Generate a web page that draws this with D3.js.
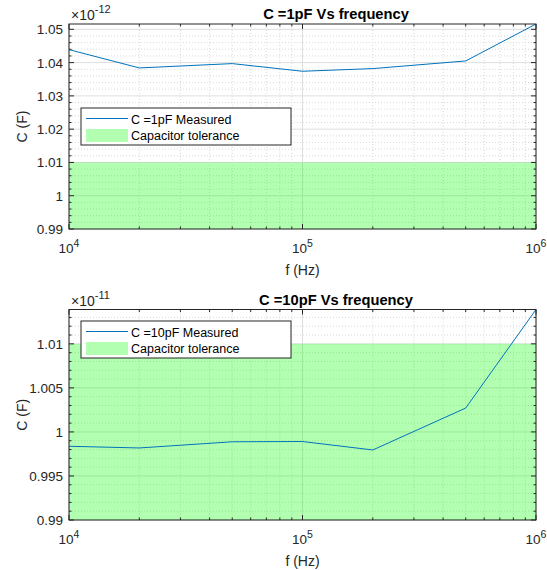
<!DOCTYPE html>
<html>
<head>
<meta charset="utf-8">
<script src="https://cdn.jsdelivr.net/npm/d3@7"></script>
<style>
  html, body { margin: 0; padding: 0; background: #fff; }
  svg { display: block; font-family: "Liberation Sans", Arial, Helvetica, sans-serif; }
</style>
</head>
<body>
<svg id="chart" width="547" height="570"></svg>
<script>
// Measurement frequencies (Hz)
const freqs = [1e4, 2e4, 5e4, 1e5, 2e5, 5e5, 1e6];

// Measured capacitance, 1 pF part (in units of 1e-12 F)
const cap1pF = [1.0439, 1.0384, 1.0397, 1.0374, 1.0382, 1.0405, 1.0516];
// Measured capacitance, 10 pF part (in units of 1e-11 F)
const cap10pF = [0.99837, 0.99818, 0.99888, 0.99891, 0.99795, 1.00271, 1.0139];

// Tolerance bands (same scaled units as the series)
const tol1pF = [0.99, 1.01];
const tol10pF = [0.99, 1.01];

// Tick values and labels
const xTicks = [1e4, 1e5, 1e6];
const xTickExponents = ["4", "5", "6"];
const yTicks1pF = [0.99, 1, 1.01, 1.02, 1.03, 1.04, 1.05];
const yTickLabels1pF = ["0.99", "1", "1.01", "1.02", "1.03", "1.04", "1.05"];
const yTicks10pF = [0.99, 0.995, 1, 1.005, 1.01];
const yTickLabels10pF = ["0.99", "0.995", "1", "1.005", "1.01"];

const titles = ["C =1pF Vs frequency", "C =10pF Vs frequency"];
const legendLabels = [["C =1pF Measured", "Capacitor tolerance"], ["C =10pF Measured", "Capacitor tolerance"]];
const exponents = ["-12", "-11"];

const svg = d3.select("#chart");
const axisColor = "#262626";
const lineColor = "#0072BD";

function drawPanel(opt) {
  const left = 69, right = 536;
  const x = d3.scaleLog().domain([1e4, 1e6]).range([left, right]);
  const yMax = d3.max(opt.values);
  const y = d3.scaleLinear().domain([0.99, yMax]).range([opt.bottom, opt.top]);

  const g = svg.append("g");
  const clipId = "clip" + opt.idx;
  svg.append("defs").append("clipPath").attr("id", clipId)
    .append("rect").attr("x", left).attr("y", opt.top)
    .attr("width", right - left).attr("height", opt.bottom - opt.top);

  // minor grid positions
  const xMinor = [];
  for (let e = 4; e < 6; e++) for (let m = 2; m <= 9; m++) xMinor.push(m * Math.pow(10, e));
  const yMinor = d3.range(0.99, yMax + 1e-9, opt.minorStep)
    .filter(v => !opt.yTicks.some(t => Math.abs(t - v) < 1e-9));

  const grid = g.append("g");
  grid.selectAll(".xmin").data(xMinor).join("line")
    .attr("x1", d => x(d)).attr("x2", d => x(d))
    .attr("y1", opt.top).attr("y2", opt.bottom)
    .attr("stroke", "#cfcfcf").attr("stroke-width", 0.8).attr("stroke-dasharray", "1,2");
  grid.selectAll(".ymin").data(yMinor).join("line")
    .attr("x1", left).attr("x2", right)
    .attr("y1", d => y(d)).attr("y2", d => y(d))
    .attr("stroke", "#cfcfcf").attr("stroke-width", 0.8).attr("stroke-dasharray", "1,2");
  // major grid
  grid.selectAll(".xmaj").data(xTicks).join("line")
    .attr("x1", d => x(d)).attr("x2", d => x(d))
    .attr("y1", opt.top).attr("y2", opt.bottom)
    .attr("stroke", "#dedede").attr("stroke-width", 1);
  grid.selectAll(".ymaj").data(opt.yTicks).join("line")
    .attr("x1", left).attr("x2", right)
    .attr("y1", d => y(d)).attr("y2", d => y(d))
    .attr("stroke", "#dedede").attr("stroke-width", 1);

  // tolerance band
  g.append("rect")
    .attr("clip-path", `url(#${clipId})`)
    .attr("x", left).attr("width", right - left)
    .attr("y", y(opt.tol[1])).attr("height", y(opt.tol[0]) - y(opt.tol[1]))
    .attr("fill", "#00ff00").attr("fill-opacity", 0.3);

  // measured line
  const line = d3.line().x((d, i) => x(freqs[i])).y(d => y(d));
  g.append("path").datum(opt.values)
    .attr("clip-path", `url(#${clipId})`)
    .attr("d", line).attr("fill", "none")
    .attr("stroke", lineColor).attr("stroke-width", 1);

  // axes (ticks inward on all four sides)
  const majorLen = 5, minorLen = 2.5;
  const ax = g.append("g");
  const addTicks = (vals, len, horiz) => {
    vals.forEach(v => {
      if (horiz) {
        const px = x(v);
        ax.append("line").attr("x1", px).attr("x2", px).attr("y1", opt.bottom).attr("y2", opt.bottom - len)
          .attr("stroke", axisColor);
        ax.append("line").attr("x1", px).attr("x2", px).attr("y1", opt.top).attr("y2", opt.top + len)
          .attr("stroke", axisColor);
      } else {
        const py = y(v);
        ax.append("line").attr("x1", left).attr("x2", left + len).attr("y1", py).attr("y2", py)
          .attr("stroke", axisColor);
        ax.append("line").attr("x1", right).attr("x2", right - len).attr("y1", py).attr("y2", py)
          .attr("stroke", axisColor);
      }
    });
  };
  addTicks(xTicks, majorLen, true);
  addTicks(xMinor, minorLen, true);
  addTicks(opt.yTicks, majorLen, false);
  addTicks(yMinor, minorLen, false);

  ax.append("rect").attr("x", left).attr("y", opt.top)
    .attr("width", right - left).attr("height", opt.bottom - opt.top)
    .attr("fill", "none").attr("stroke", axisColor).attr("stroke-width", 1);

  // y tick labels
  ax.selectAll(".ylab").data(opt.yTicks).join("text")
    .attr("x", left - 6).attr("y", d => y(d) + 5)
    .attr("text-anchor", "end").attr("font-size", 13.5).attr("fill", axisColor)
    .text((d, i) => opt.yLabels[i]);

  // x tick labels 10^n
  xTicks.forEach((v, i) => {
    const t = ax.append("text").attr("x", x(v)).attr("y", opt.bottom + 24)
      .attr("text-anchor", "middle").attr("font-size", 13.5).attr("fill", axisColor);
    t.append("tspan").text("10");
    t.append("tspan").attr("dy", -6).attr("font-size", 10.5).text(xTickExponents[i]);
  });

  // exponent label
  const ex = ax.append("text").attr("x", left + 2).attr("y", opt.top - 4)
    .attr("font-size", 14).attr("fill", axisColor);
  ex.append("tspan").text("\u00d710");
  ex.append("tspan").attr("dy", -7).attr("font-size", 11).text(opt.exponent);

  // title
  ax.append("text").attr("x", 336).attr("y", opt.top - 5)
    .attr("text-anchor", "middle").attr("font-size", 14.7).attr("font-weight", "bold")
    .attr("fill", "#000").text(opt.title);

  // axis labels
  ax.append("text").attr("x", (left + right) / 2).attr("y", opt.bottom + 46)
    .attr("text-anchor", "middle").attr("font-size", 14).attr("fill", axisColor).text("f (Hz)");
  ax.append("text")
    .attr("transform", `translate(27,${(opt.top + opt.bottom) / 2}) rotate(-90)`)
    .attr("text-anchor", "middle").attr("font-size", 14).attr("fill", axisColor).text("C (F)");

  // legend
  const lg = g.append("g").attr("transform", `translate(81,${opt.legendTop})`);
  lg.append("rect").attr("width", 210).attr("height", 37)
    .attr("fill", "#fff").attr("stroke", axisColor).attr("stroke-width", 1);
  lg.append("line").attr("x1", 5).attr("x2", 47).attr("y1", 10.5).attr("y2", 10.5)
    .attr("stroke", lineColor).attr("stroke-width", 1);
  lg.append("rect").attr("x", 5).attr("y", 21).attr("width", 42).attr("height", 13)
    .attr("fill", "#00ff00").attr("fill-opacity", 0.3);
  lg.append("text").attr("x", 50).attr("y", 16).attr("font-size", 12.5).attr("fill", "#000")
    .text(opt.legend[0]);
  lg.append("text").attr("x", 50).attr("y", 32).attr("font-size", 12.5).attr("fill", "#000")
    .text(opt.legend[1]);
}

drawPanel({
  idx: 0, top: 24, bottom: 229, values: cap1pF, tol: tol1pF,
  yTicks: yTicks1pF, yLabels: yTickLabels1pF, minorStep: 0.002,
  title: titles[0], legend: legendLabels[0], exponent: exponents[0], legendTop: 108
});
drawPanel({
  idx: 1, top: 309.5, bottom: 520, values: cap10pF, tol: tol10pF,
  yTicks: yTicks10pF, yLabels: yTickLabels10pF, minorStep: 0.001,
  title: titles[1], legend: legendLabels[1], exponent: exponents[1], legendTop: 321
});
</script>
</body>
</html>
